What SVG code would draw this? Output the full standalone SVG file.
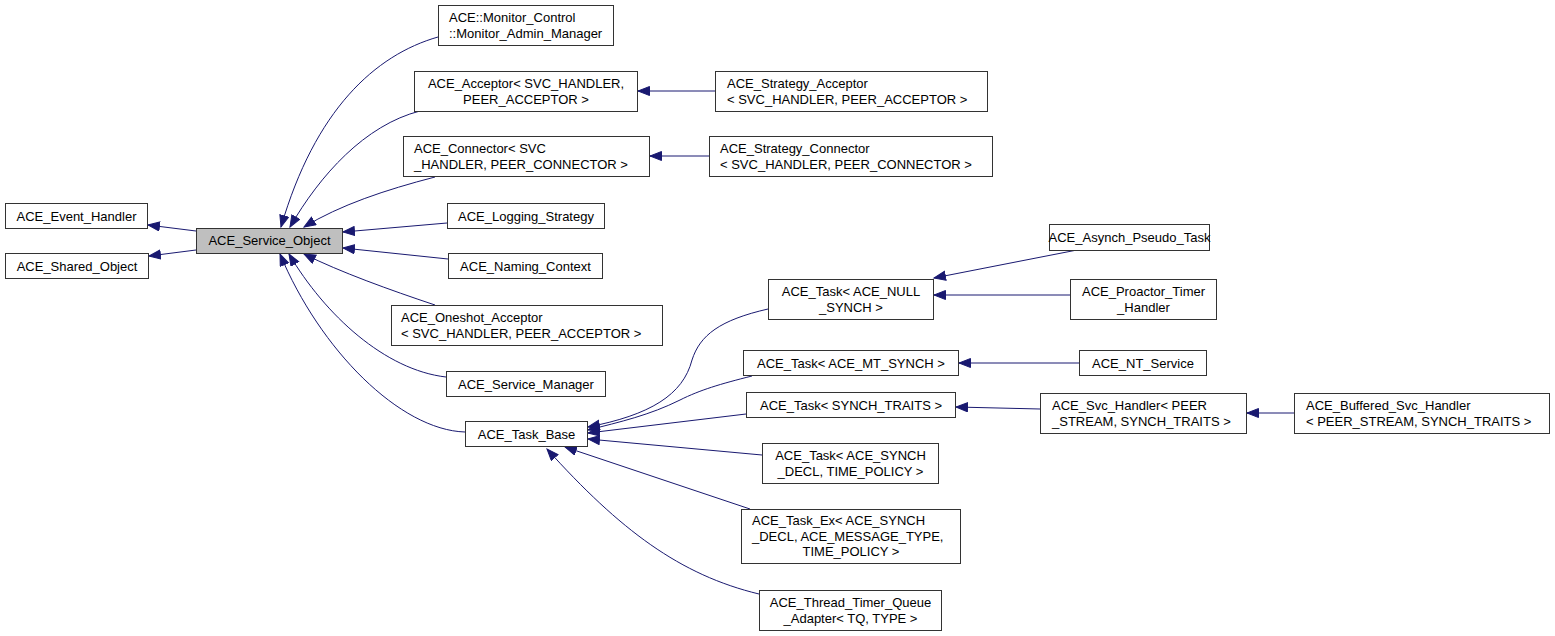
<svg xmlns="http://www.w3.org/2000/svg" width="1555" height="636" viewBox="0 0 1555 636">
<style>
.n rect{fill:#fff;stroke:#333;stroke-width:1}
.n text{font-family:"Liberation Sans",Arial,sans-serif;font-size:13px;fill:#000}
.c{text-anchor:middle}
.e path{fill:none;stroke:#191970;stroke-width:1;marker-end:url(#a)}
</style>
<defs>
<marker id="a" markerUnits="userSpaceOnUse" markerWidth="14" markerHeight="12" refX="12" refY="5" orient="auto">
<path d="M0.5,0.5 L12,5 L0.5,9.5 z" fill="#191970" stroke="#191970" stroke-width="1"/>
</marker>
</defs>
<rect width="1555" height="636" fill="#fff"/>
<g class="e" id="edges">
<path d="M196,231 L148,225"/>
<path d="M196,250 L149,256"/>
<path d="M438,37 C375,55 315,110 281,227"/>
<path d="M420,111 C365,125 320,175 290,227"/>
<path d="M435,177 C385,190 340,205 304,227"/>
<path d="M447,223 L343,232"/>
<path d="M448,259 L343,248"/>
<path d="M435,305 C390,290 340,272 304,254"/>
<path d="M446,377 C385,370 325,315 289,254"/>
<path d="M465,432 C400,430 320,350 280,254"/>
<path d="M715,91 L638,91"/>
<path d="M709,156 L650,156"/>
<path d="M1077,250 L934,278"/>
<path d="M1070,295 L934,295"/>
<path d="M1079,363 L959,363"/>
<path d="M1040,409 L956,407"/>
<path d="M1294,413 L1247,413"/>
<path d="M768,309 C720,320 700,335 692,360 C683,395 650,415 588,427"/>
<path d="M752,376 C720,384 700,390 680,400 C650,415 620,422 588,430"/>
<path d="M746,414 L588,433"/>
<path d="M762,455 L588,439"/>
<path d="M750,509 L565,447"/>
<path d="M759,594 C680,575 620,530 547,449"/>
</g>
<g class="n" id="event_handler"><rect x="5.5" y="203.5" width="142" height="25"/><text class="c" x="76.5" y="220.5">ACE_Event_Handler</text></g>
<g class="n" id="shared_object"><rect x="5.5" y="253.5" width="143" height="25"/><text class="c" x="77" y="270.5">ACE_Shared_Object</text></g>
<g class="n" id="service_object"><rect x="196.5" y="228.5" width="146" height="25" style="fill:#bfbfbf"/><text class="c" x="269.5" y="245">ACE_Service_Object</text></g>
<g class="n" id="monitor_admin_manager"><rect x="438.5" y="5.5" width="175" height="40"/><text x="449" y="22">ACE::Monitor_Control</text><text x="449" y="37.5">::Monitor_Admin_Manager</text></g>
<g class="n" id="acceptor"><rect x="414.5" y="71.5" width="223" height="40"/><text class="c" x="526" y="88">ACE_Acceptor&lt; SVC_HANDLER,</text><text class="c" x="526" y="103.5">PEER_ACCEPTOR &gt;</text></g>
<g class="n" id="connector"><rect x="403.5" y="136.5" width="246" height="40"/><text x="414" y="153">ACE_Connector&lt; SVC</text><text x="414" y="168.5">_HANDLER, PEER_CONNECTOR &gt;</text></g>
<g class="n" id="strategy_acceptor"><rect x="715.5" y="71.5" width="272" height="40"/><text x="727" y="88">ACE_Strategy_Acceptor</text><text x="727" y="103.5">&lt; SVC_HANDLER, PEER_ACCEPTOR &gt;</text></g>
<g class="n" id="strategy_connector"><rect x="709.5" y="136.5" width="283" height="40"/><text x="720" y="153">ACE_Strategy_Connector</text><text x="720" y="168.5">&lt; SVC_HANDLER, PEER_CONNECTOR &gt;</text></g>
<g class="n" id="logging_strategy"><rect x="447.5" y="203.5" width="157" height="25"/><text class="c" x="526" y="220.5">ACE_Logging_Strategy</text></g>
<g class="n" id="naming_context"><rect x="448.5" y="253.5" width="154" height="25"/><text class="c" x="525.5" y="270.5">ACE_Naming_Context</text></g>
<g class="n" id="oneshot_acceptor"><rect x="391.5" y="305.5" width="271" height="40"/><text x="401" y="322">ACE_Oneshot_Acceptor</text><text x="401" y="337.5">&lt; SVC_HANDLER, PEER_ACCEPTOR &gt;</text></g>
<g class="n" id="service_manager"><rect x="446.5" y="371.5" width="159" height="25"/><text class="c" x="526" y="388.5">ACE_Service_Manager</text></g>
<g class="n" id="task_base"><rect x="465.5" y="421.5" width="122" height="25"/><text class="c" x="526.5" y="438.5">ACE_Task_Base</text></g>
<g class="n" id="task_null_synch"><rect x="768.5" y="279.5" width="165" height="40"/><text class="c" x="851" y="296">ACE_Task&lt; ACE_NULL</text><text class="c" x="851" y="311.5">_SYNCH &gt;</text></g>
<g class="n" id="asynch_pseudo_task"><rect x="1049.5" y="224.5" width="160" height="26"/><text class="c" x="1129.5" y="242">ACE_Asynch_Pseudo_Task</text></g>
<g class="n" id="proactor_timer_handler"><rect x="1070.5" y="279.5" width="146" height="40"/><text class="c" x="1143.5" y="296">ACE_Proactor_Timer</text><text class="c" x="1143.5" y="311.5">_Handler</text></g>
<g class="n" id="task_mt_synch"><rect x="743.5" y="350.5" width="215" height="25"/><text class="c" x="851" y="367.5">ACE_Task&lt; ACE_MT_SYNCH &gt;</text></g>
<g class="n" id="nt_service"><rect x="1079.5" y="350.5" width="127" height="25"/><text class="c" x="1143" y="367.5">ACE_NT_Service</text></g>
<g class="n" id="task_synch_traits"><rect x="746.5" y="392.5" width="209" height="25"/><text class="c" x="851" y="409.5">ACE_Task&lt; SYNCH_TRAITS &gt;</text></g>
<g class="n" id="svc_handler"><rect x="1040.5" y="393.5" width="206" height="40"/><text x="1052" y="410">ACE_Svc_Handler&lt; PEER</text><text x="1052" y="425.5">_STREAM, SYNCH_TRAITS &gt;</text></g>
<g class="n" id="buffered_svc_handler"><rect x="1294.5" y="393.5" width="255" height="40"/><text x="1306" y="410">ACE_Buffered_Svc_Handler</text><text x="1306" y="425.5">&lt; PEER_STREAM, SYNCH_TRAITS &gt;</text></g>
<g class="n" id="task_synch_decl"><rect x="762.5" y="443.5" width="176" height="40"/><text class="c" x="850.5" y="460">ACE_Task&lt; ACE_SYNCH</text><text class="c" x="850.5" y="475.5">_DECL, TIME_POLICY &gt;</text></g>
<g class="n" id="task_ex"><rect x="741.5" y="509.5" width="219" height="54"/><text x="752" y="525">ACE_Task_Ex&lt; ACE_SYNCH</text><text x="752" y="540.5">_DECL, ACE_MESSAGE_TYPE,</text><text class="c" x="851" y="556">TIME_POLICY &gt;</text></g>
<g class="n" id="thread_timer_queue_adapter"><rect x="759.5" y="590.5" width="182" height="40"/><text class="c" x="850.5" y="607">ACE_Thread_Timer_Queue</text><text class="c" x="850.5" y="622.5">_Adapter&lt; TQ, TYPE &gt;</text></g>
</svg>
